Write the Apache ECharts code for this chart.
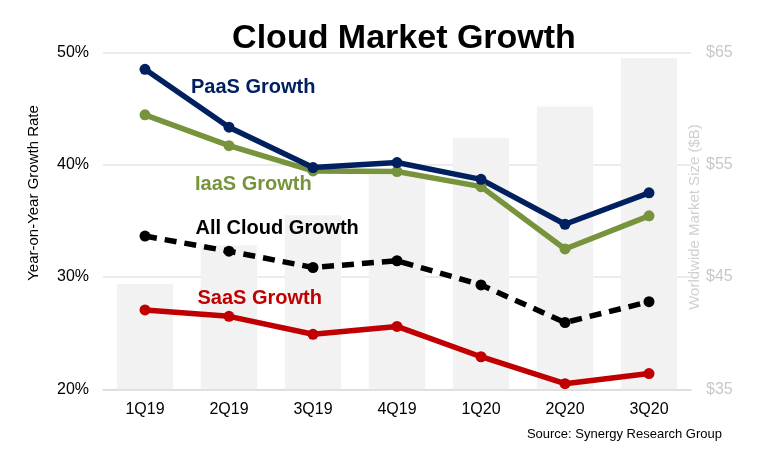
<!DOCTYPE html>
<html>
<head>
<meta charset="utf-8">
<script src="https://cdn.jsdelivr.net/npm/echarts@6/dist/echarts.min.js"></script>
<style>html,body{margin:0;padding:0;background:#fff}#c{width:776px;height:467px}</style>
</head>
<body>
<div id="c"></div>
<script>
const categories = ['1Q19','2Q19','3Q19','4Q19','1Q20','2Q20','3Q20'];
const marketSize = [44.4, 47.8, 50.5, 54.1, 57.4, 60.2, 64.5];
const paasGrowth = [48.5, 43.35, 39.75, 40.2, 38.7, 34.7, 37.5];
const iaasGrowth = [44.45, 41.7, 39.45, 39.4, 38.05, 32.5, 35.45];
const allCloudGrowth = [33.65, 32.3, 30.85, 31.45, 29.3, 25.95, 27.8];
const saasGrowth = [27.07, 26.5, 24.9, 25.6, 22.9, 20.5, 21.4];
const leftTicks = [20, 30, 40, 50];
const rightTicks = [35, 45, 55, 65];

const FONT = 'Liberation Sans, Arial, sans-serif';
const chart = echarts.init(document.getElementById('c'));

function lineSeries(name, data, color, dashed) {
  return {
    name, type: 'line', data, yAxisIndex: 0, z: 5,
    symbol: 'circle', symbolSize: 11,
    lineStyle: { width: 5.5, color, type: dashed ? [12, 8] : 'solid' },
    itemStyle: { color },
    animation: false
  };
}

function label(text, x, y, color, size, weight) {
  return {
    type: 'text', x, y, z: 100,
    style: { text, fill: color, font: (weight || 'bold') + ' ' + size + 'px ' + FONT, textVerticalAlign: 'middle' }
  };
}

chart.setOption({
  animation: false,
  textStyle: { fontFamily: FONT },
  grid: { left: 103, right: 85, top: 52.5, bottom: 77.7 },
  xAxis: {
    type: 'category', data: categories,
    axisLine: { lineStyle: { color: '#d9d9d9', width: 1.5 } },
    axisTick: { show: false },
    axisLabel: { color: '#000', fontSize: 16, margin: 12, fontFamily: FONT }
  },
  yAxis: [
    {
      type: 'value', min: leftTicks[0], max: leftTicks[leftTicks.length - 1], interval: 10,
      axisLabel: { formatter: '{value}%', color: '#000', fontSize: 16, margin: 14, fontFamily: FONT },
      axisLine: { show: false }, axisTick: { show: false },
      splitLine: { lineStyle: { color: '#e6e6e6', width: 1.5 } }
    },
    {
      type: 'value', min: rightTicks[0], max: rightTicks[rightTicks.length - 1], interval: 10,
      axisLabel: { formatter: '${value}', color: '#c8c8c8', fontSize: 16, margin: 15, fontFamily: FONT },
      axisLine: { show: false }, axisTick: { show: false },
      splitLine: { show: false }
    }
  ],
  series: [
    {
      name: 'Market Size', type: 'bar', data: marketSize, yAxisIndex: 1,
      barWidth: '67%', itemStyle: { color: '#f2f2f2' }, z: 1
    },
    lineSeries('SaaS Growth', saasGrowth, '#c00000', false),
    lineSeries('All Cloud Growth', allCloudGrowth, '#000000', true),
    lineSeries('IaaS Growth', iaasGrowth, '#77933c', false),
    lineSeries('PaaS Growth', paasGrowth, '#002060', false)
  ],
  graphic: [
    {
      type: 'text', x: 404, y: 39, z: 100,
      style: { text: 'Cloud Market Growth', fill: '#000', font: 'bold 34px ' + FONT, textAlign: 'center', textVerticalAlign: 'middle' }
    },
    label('PaaS Growth', 191, 87, '#002060', 20),
    label('IaaS Growth', 195, 184, '#77933c', 20),
    label('All Cloud Growth', 195.5, 228.5, '#000', 20),
    label('SaaS Growth', 197.5, 298, '#c00000', 20),
    {
      type: 'text', x: 722, y: 434, z: 100,
      style: { text: 'Source: Synergy Research Group', fill: '#000', font: '13px ' + FONT, textAlign: 'right', textVerticalAlign: 'middle' }
    },
    {
      type: 'text', x: 33.5, y: 193, rotation: Math.PI / 2, z: 100,
      style: { text: 'Year-on-Year Growth Rate', fill: '#000', font: '15px ' + FONT, textAlign: 'center', textVerticalAlign: 'middle' }
    },
    {
      type: 'text', x: 695, y: 217, rotation: Math.PI / 2, z: 100,
      style: { text: 'Worldwide Market Size ($B)', fill: '#d0d0d0', font: '15px ' + FONT, textAlign: 'center', textVerticalAlign: 'middle' }
    }
  ]
});
</script>
</body>
</html>
